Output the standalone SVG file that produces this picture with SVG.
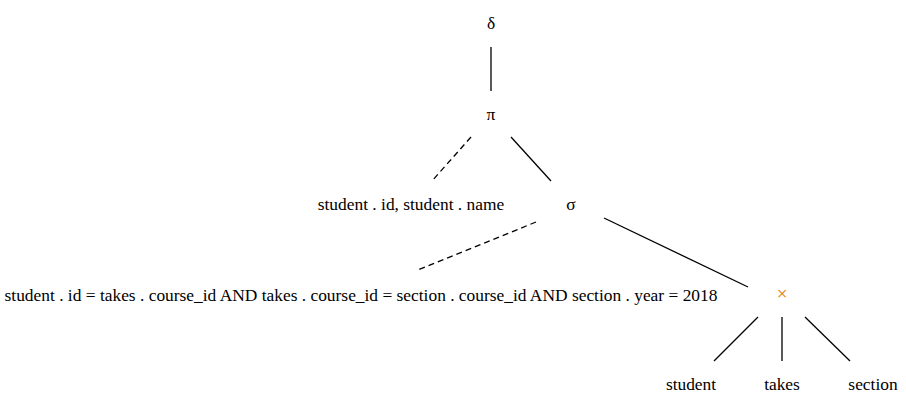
<svg xmlns="http://www.w3.org/2000/svg" width="906" height="403" viewBox="0 0 906 403">
<style>
text{font-family:"Liberation Serif","Times New Roman","DejaVu Serif",serif;font-size:17.4px;fill:#000;text-anchor:middle}
.op{fill:#e07800}
.e{stroke:#000;stroke-width:1.3;fill:none}
.d{stroke-dasharray:6,4}
</style>
<rect width="906" height="403" fill="#fff"/>
<g id="connectors">
<line class="e" x1="491" y1="47" x2="491" y2="91"/>
<line class="e d" x1="471" y1="137" x2="432" y2="181"/>
<line class="e" x1="511" y1="137" x2="551" y2="181"/>
<line class="e d" x1="536" y1="222" x2="418" y2="270"/>
<line class="e" x1="604" y1="218" x2="748" y2="287"/>
<line class="e" x1="758" y1="317" x2="714" y2="361"/>
<line class="e" x1="782" y1="317" x2="782" y2="361"/>
<line class="e" x1="805" y1="317" x2="850" y2="361"/>
</g>
<g id="delta"><text x="491" y="29">δ</text></g>
<g id="pi"><text x="491" y="120">π</text></g>
<g id="proj-attrs"><text x="411" y="210">student . id, student . name</text></g>
<g id="sigma"><text x="571" y="210">σ</text></g>
<g id="sel-cond"><text x="361" y="301">student . id = takes . course_id AND takes . course_id = section . course_id AND section . year = 2018</text></g>
<g id="cross"><text class="op" x="782" y="300" style="font-size:19px">×</text></g>
<g id="student"><text x="691" y="390">student</text></g>
<g id="takes"><text x="782" y="390">takes</text></g>
<g id="section"><text x="873" y="390">section</text></g>
</svg>
